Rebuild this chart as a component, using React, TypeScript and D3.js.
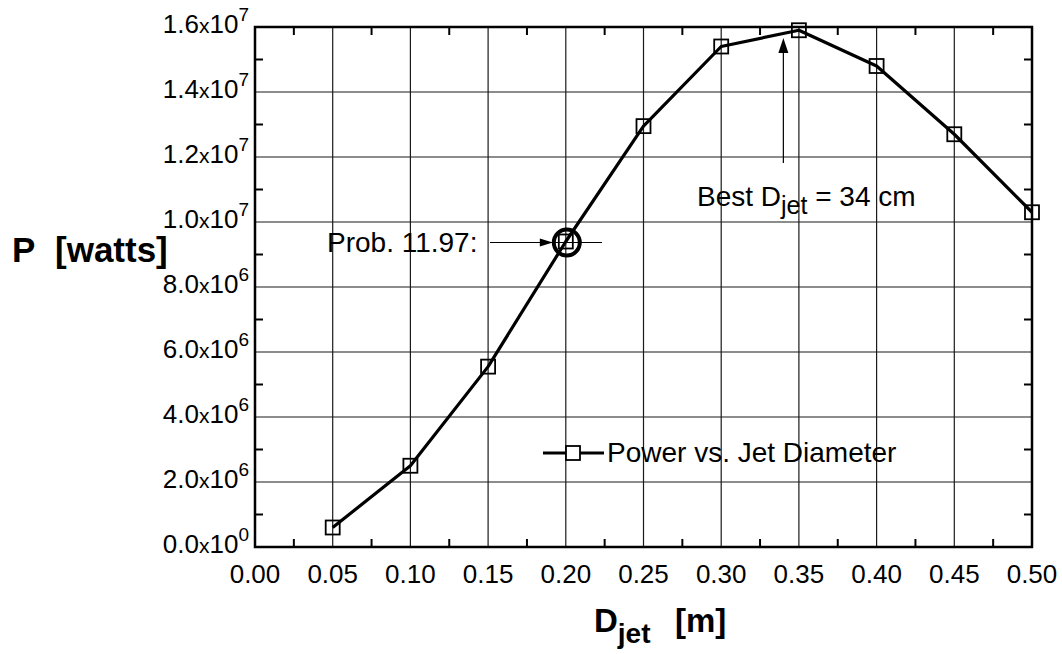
import React from "react";
import * as d3 from "d3";

const diameters = [0.05, 0.1, 0.15, 0.2, 0.25, 0.3, 0.35, 0.4, 0.45, 0.5];
const powers = [0.6e6, 2.5e6, 5.55e6, 9.4e6, 12.95e6, 15.4e6, 15.9e6, 14.8e6, 12.7e6, 10.3e6];
const xTicks = [0, 0.05, 0.1, 0.15, 0.2, 0.25, 0.3, 0.35, 0.4, 0.45, 0.5];
const xMinor = [0.025, 0.075, 0.125, 0.175, 0.225, 0.275, 0.325, 0.375, 0.425, 0.475];
const yTicks = [0, 2e6, 4e6, 6e6, 8e6, 10e6, 12e6, 14e6, 16e6];
const yTickMant = ["0.0", "2.0", "4.0", "6.0", "8.0", "1.0", "1.2", "1.4", "1.6"];
const yTickExp = ["0", "6", "6", "6", "6", "7", "7", "7", "7"];
const yMinor = [1e6, 3e6, 5e6, 7e6, 9e6, 11e6, 13e6, 15e6];
const seriesName = "Power vs. Jet Diameter";
const bestD = 0.34;
const probPoint = { d: 0.2, p: 9.4e6 };

const W = 1062, H = 654;
const L = 255, T = 27, R = 1032, B = 547;
const font = "'Liberation Sans', Arial, sans-serif";

export default function App() {
  const x = d3.scaleLinear().domain([0, 0.5]).range([L, R]);
  const y = d3.scaleLinear().domain([0, 16e6]).range([B, T]);
  const line = d3.line<number>().x((_, i) => x(diameters[i])).y((p) => y(p));
  const tl = 8;
  const ms = 14;
  const bx = x(bestD);
  const cx = x(probPoint.d), cy = y(probPoint.p);
  return (
    <svg width={W} height={H} style={{ position: "absolute", left: 0, top: 0, background: "#fff" }} fontFamily={font}>
      <rect x={0} y={0} width={W} height={H} fill="#fff" />
      {/* grid */}
      {xTicks.map((t) => (
        <line key={"gx" + t} x1={x(t)} x2={x(t)} y1={T} y2={B} stroke="#1a1a1a" strokeWidth={1.2} />
      ))}
      {yTicks.map((t) => (
        <line key={"gy" + t} x1={L} x2={R} y1={y(t)} y2={y(t)} stroke="#1a1a1a" strokeWidth={1.2} />
      ))}
      {/* minor ticks */}
      {xMinor.map((t) => (
        <g key={"mx" + t}>
          <line x1={x(t)} x2={x(t)} y1={B} y2={B - tl} stroke="#000" strokeWidth={2} />
          <line x1={x(t)} x2={x(t)} y1={T} y2={T + tl} stroke="#000" strokeWidth={2} />
        </g>
      ))}
      {yMinor.map((t) => (
        <g key={"my" + t}>
          <line x1={L} x2={L + tl} y1={y(t)} y2={y(t)} stroke="#000" strokeWidth={2} />
          <line x1={R} x2={R - tl} y1={y(t)} y2={y(t)} stroke="#000" strokeWidth={2} />
        </g>
      ))}
      {/* frame */}
      <rect x={L} y={T} width={R - L} height={B - T} fill="none" stroke="#000" strokeWidth={2.5} />
      {/* x tick labels */}
      {xTicks.map((t) => (
        <text key={"xl" + t} x={x(t)} y={583} textAnchor="middle" fontSize={26} fill="#000">
          {t.toFixed(2)}
        </text>
      ))}
      {/* y tick labels */}
      {yTicks.map((t, i) => (
        <text key={"yl" + t} x={249} y={y(t) + 6} textAnchor="end" fontSize={26} fill="#000">
          {yTickMant[i]}
          <tspan fontSize={21}>x</tspan>
          10
          <tspan dy={-12} fontSize={19}>{yTickExp[i]}</tspan>
        </text>
      ))}
      {/* series */}
      <path d={line(powers) || ""} fill="none" stroke="#000" strokeWidth={3.2} strokeLinejoin="round" />
      {powers.map((p, i) => (
        <rect key={"m" + i} x={x(diameters[i]) - ms / 2} y={y(p) - ms / 2} width={ms} height={ms} fill="none" stroke="#000" strokeWidth={1.8} />
      ))}
      {/* Prob annotation */}
      <circle cx={cx + 1} cy={cy + 1} r={13} fill="none" stroke="#000" strokeWidth={4} />
      <line x1={490} x2={602} y1={cy + 1} y2={cy + 1} stroke="#000" strokeWidth={1.2} />
      <path d={`M${cx - 13},${cy + 1} l-13,-4 l0,8 z`} fill="#000" />
      <text x={327} y={cy + 10} fontSize={28} fill="#000">Prob. 11.97:</text>
      {/* Best annotation */}
      <line x1={bx} x2={bx} y1={163} y2={50} stroke="#000" strokeWidth={1.2} />
      <path d={`M${bx},${38} l-5,15 l10,0 z`} fill="#000" />
      <text x={697} y={206} fontSize={28} fill="#000">
        Best D<tspan dy={8} fontSize={25}>jet</tspan>
        <tspan dy={-8}> = 34 cm</tspan>
      </text>
      {/* legend */}
      <line x1={543} x2={604} y1={453} y2={453} stroke="#000" strokeWidth={3.2} />
      <rect x={573 - ms / 2} y={453 - ms / 2} width={ms} height={ms} fill="#fff" stroke="#000" strokeWidth={1.8} />
      <text x={607} y={462} fontSize={28} fill="#000">{seriesName}</text>
      {/* axis titles */}
      <text x={12} y={262} fontSize={35} fontWeight="bold" fill="#000">P</text>
      <text x={55} y={262} fontSize={35} fontWeight="bold" fill="#000">[watts]</text>
      <text x={594} y={632} fontSize={33} fontWeight="bold" fill="#000">
        D<tspan dy={11} fontSize={28}>jet</tspan>
      </text>
      <text x={675} y={632} fontSize={33} fontWeight="bold" fill="#000">[m]</text>
    </svg>
  );
}
